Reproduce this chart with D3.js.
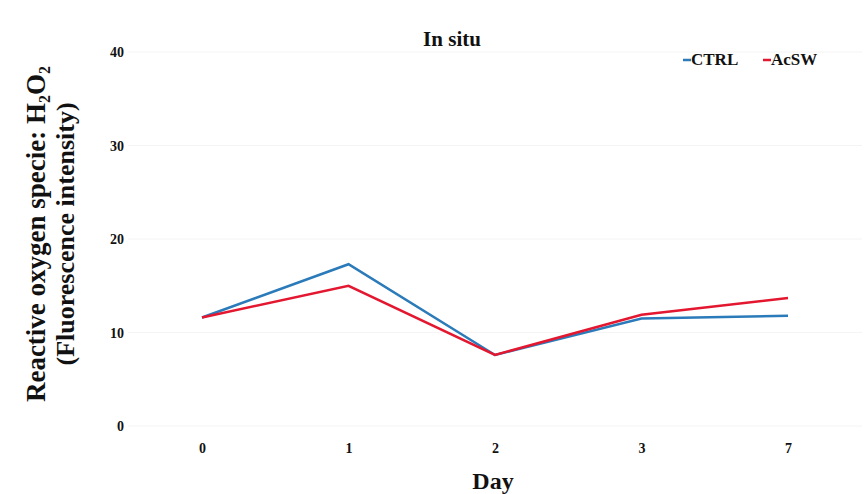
<!DOCTYPE html>
<html>
<head>
<meta charset="utf-8">
<script src="https://cdn.jsdelivr.net/npm/d3@7/dist/d3.min.js"></script>
<style>
  body { margin: 0; background: #fff; }
  svg text { font-family: "Liberation Serif", "Times New Roman", serif; font-weight: bold; fill: #111; }
</style>
</head>
<body>
<svg id="chart"></svg>
<script>
var days = ["0", "1", "2", "3", "7"];
var ctrl = [11.6, 17.3, 7.6, 11.5, 11.8];
var acsw = [11.6, 15.0, 7.6, 11.9, 13.7];
var yTicks = [0, 10, 20, 30, 40];
var seriesNames = ["CTRL", "AcSW"];
var seriesColors = ["#2b7bba", "#e3172f"];

(function () {
  var width = 867, height = 494;
  var svg = d3.select("#chart").attr("width", width).attr("height", height);

  var x = d3.scalePoint().domain(days).range([202, 788]);
  var y = d3.scaleLinear().domain([0, 40]).range([426, 52]);

  // faint gridlines
  svg.append("g")
    .selectAll("line")
    .data(yTicks)
    .enter().append("line")
    .attr("x1", 128).attr("x2", 862)
    .attr("y1", function(d) { return y(d); })
    .attr("y2", function(d) { return y(d); })
    .style("stroke", "#f4f4f4")
    .style("stroke-width", 1);

  var yAxis = svg.append("g")
    .attr("transform", "translate(124,0)")
    .call(d3.axisLeft(y).tickValues(yTicks).tickSize(0).tickPadding(0));
  yAxis.select(".domain").remove();
  yAxis.selectAll("text")
    .style("font-size", "14px")
    .attr("dy", "0.35em");

  var xAxis = svg.append("g")
    .attr("transform", "translate(0,443)")
    .call(d3.axisBottom(x).tickSize(0).tickPadding(0));
  xAxis.select(".domain").remove();
  xAxis.selectAll("text")
    .style("font-size", "14px")
    .attr("dy", "0.71em");

  svg.append("text")
    .attr("x", 493).attr("y", 489)
    .style("text-anchor", "middle")
    .style("font-size", "24px")
    .text("Day");

  svg.append("text")
    .attr("x", 452).attr("y", 46)
    .style("text-anchor", "middle")
    .style("font-size", "21px")
    .text("In situ");

  // y label, two rows
  var yl = svg.append("text")
    .attr("transform", "translate(45,234) rotate(-90)")
    .style("text-anchor", "middle")
    .style("font-size", "27px");
  yl.append("tspan").text("Reactive oxygen specie:  H");
  yl.append("tspan").attr("dy", 5).style("font-size", "16px").text("2");
  yl.append("tspan").attr("dy", -5).text("O");
  yl.append("tspan").attr("dy", 5).style("font-size", "16px").text("2");

  svg.append("text")
    .attr("transform", "translate(74,234) rotate(-90)")
    .style("text-anchor", "middle")
    .style("font-size", "26px")
    .text("(Fluorescence intensity)");

  var line = d3.line()
    .x(function(d, i) { return x(days[i]); })
    .y(function(d) { return y(d); });

  var data = [ctrl, acsw];
  svg.append("g").selectAll("path")
    .data(data)
    .enter().append("path")
    .attr("d", function(d) { return line(d); })
    .style("fill", "none")
    .style("stroke", function(d, i) { return seriesColors[i]; })
    .style("stroke-width", 2.5);

  // legend
  var legX = [683, 763];
  var leg = svg.append("g").selectAll("g")
    .data(seriesNames)
    .enter().append("g")
    .attr("transform", function(d, i) { return "translate(" + legX[i] + ",65)"; });
  leg.append("line")
    .attr("x1", 0).attr("x2", 8)
    .attr("y1", -5).attr("y2", -5)
    .style("stroke", function(d, i) { return seriesColors[i]; })
    .style("stroke-width", 2.5);
  leg.append("text")
    .attr("x", 8)
    .style("font-size", "17px")
    .text(function(d) { return d; });
})();
</script>
</body>
</html>
